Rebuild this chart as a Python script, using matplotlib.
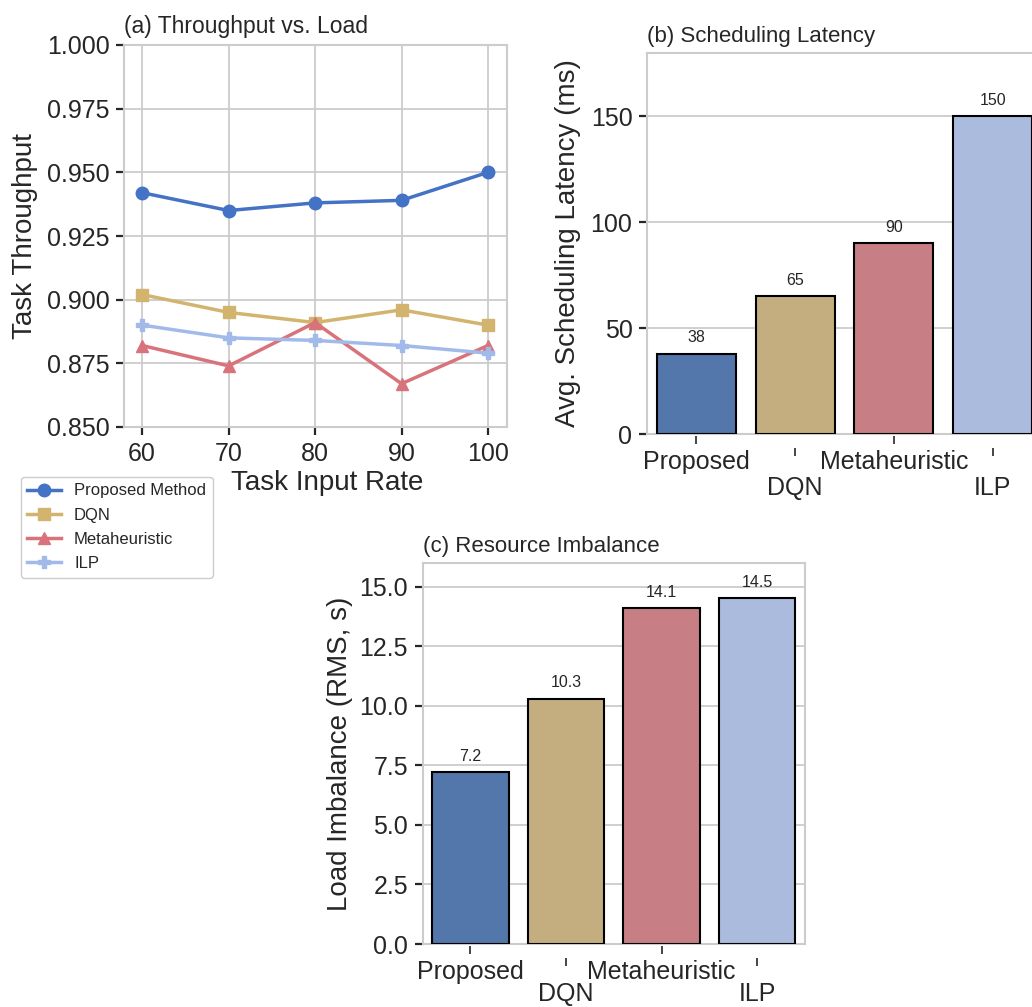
import matplotlib
matplotlib.use("Agg")
import matplotlib.pyplot as plt
from matplotlib.transforms import ScaledTranslation
import numpy as np

# ---------------- data ----------------
load_rates = [60, 70, 80, 90, 100]
thr_proposed = [0.942, 0.935, 0.938, 0.939, 0.950]
thr_dqn = [0.902, 0.895, 0.891, 0.896, 0.890]
thr_meta = [0.882, 0.874, 0.891, 0.867, 0.882]
thr_ilp = [0.890, 0.885, 0.884, 0.882, 0.879]
series_names = ["Proposed Method", "DQN", "Metaheuristic", "ILP"]

methods = ["Proposed", "DQN", "Metaheuristic", "ILP"]
latency = [38, 65, 90, 150]
imbalance = [7.2, 10.3, 14.1, 14.5]
latency_labels = ["38", "65", "90", "150"]
imbalance_labels = ["7.2", "10.3", "14.1", "14.5"]

yticks_a = [0.850, 0.875, 0.900, 0.925, 0.950, 0.975, 1.000]
yticks_b = [0, 50, 100, 150]
yticks_c = [0.0, 2.5, 5.0, 7.5, 10.0, 12.5, 15.0]

# ---------------- style ----------------
line_colors = ["#4472C4", "#D2B46E", "#D9737B", "#A2BAEA"]
bar_colors = ["#5377AA", "#C4AE80", "#C77E84", "#AABBDD"]
markers = ["o", "s", "^", "P"]
txt = "#262626"
grid_c = "#CCCCCC"

plt.rcParams.update({
    "font.family": ["Liberation Sans", "DejaVu Sans"],
    "text.color": txt,
    "axes.labelcolor": txt,
    "xtick.color": txt,
    "ytick.color": txt,
    "axes.edgecolor": grid_c,
    "axes.linewidth": 1.5,
    "grid.color": grid_c,
    "grid.linewidth": 1.3,
    "xtick.major.size": 6,
    "ytick.major.size": 6,
    "xtick.major.width": 1.6,
    "ytick.major.width": 1.6,
    "xtick.direction": "out",
    "ytick.direction": "out",
})

W, H = 1032, 1007
fig = plt.figure(figsize=(W / 100, H / 100), dpi=100)


def px_axes(l, t, r, b):
    return fig.add_axes([l / W, 1 - b / H, (r - l) / W, (b - t) / H])


# ---------------- (a) ----------------
ax1 = px_axes(124, 45, 507, 427)
all_thr = [thr_proposed, thr_dqn, thr_meta, thr_ilp]
handles = []
for vals, name, c, m in zip(all_thr, series_names, line_colors, markers):
    h, = ax1.plot(load_rates, vals, color=c, marker=m, lw=2.5, ms=9,
                  label=name)
    handles.append(h)
ax1.set_ylim(0.85, 1.0)
ax1.set_xlim(57.9, 102.2)
ax1.set_xticks(load_rates)
ax1.set_yticks(yticks_a)
ax1.set_yticklabels([f"{v:.3f}" for v in yticks_a])
ax1.grid(True)
ax1.set_axisbelow(True)
ax1.tick_params(labelsize=18, pad=4.5)
ax1.set_xlabel("Task Input Rate", fontsize=20)
ax1.set_ylabel("Task Throughput", fontsize=20)
ax1.xaxis.set_label_coords((326.7 - 124) / 383, (427 - 470) / 382)
ax1.yaxis.set_label_coords((38 - 124) / 383, 0.5)
ax1.set_title("(a) Throughput vs. Load", loc="left", fontsize=16.5, pad=8.5)

fig.legend(handles=handles, labels=series_names, loc="upper left",
           bbox_to_anchor=(20.7 / W, 1 - 476.7 / H), borderaxespad=0,
           fontsize=12, labelspacing=0.55, frameon=True, edgecolor=grid_c,
           fancybox=True, framealpha=1, borderpad=0.4, handletextpad=0.8)


# ---------------- bar helper ----------------
def bar_panel(ax, values, labels, ylim, yticks, ytlabels, ylabel, title,
              ylab_x, odd_pad):
    x = np.arange(len(methods))
    bars = ax.bar(x, values, width=0.8, color=bar_colors,
                  edgecolor="black", linewidth=1.5, zorder=3)
    ax.bar_label(bars, labels=labels, padding=6, fontsize=11.5, color=txt)
    ax.set_xlim(-0.5, len(methods) - 0.5)
    ax.set_ylim(*ylim)
    ax.set_yticks(yticks)
    ax.set_yticklabels(ytlabels)
    ax.yaxis.grid(True, zorder=0)
    ax.xaxis.grid(False)
    ax.set_axisbelow(True)
    ax.tick_params(axis="y", labelsize=18, pad=4.5)
    ax.set_xticks(x)
    ax.set_xticklabels(methods, fontsize=18)
    ax.tick_params(axis="x", width=1.2, length=6)
    for i, tk in enumerate(ax.xaxis.get_major_ticks()):
        off = 2 if i % 2 == 0 else 14
        tk.tick1line.set_transform(
            tk.tick1line.get_transform()
            + ScaledTranslation(0, -off / 100, fig.dpi_scale_trans))
        tk.set_pad(5.5 if i % 2 == 0 else odd_pad)
    ax.set_ylabel(ylabel, fontsize=20)
    ax.yaxis.set_label_coords(ylab_x, 0.5)
    ax.set_title(title, loc="left", fontsize=16, pad=8)


# ---------------- (b) ----------------
ax2 = px_axes(647, 53, 1042, 434)
bar_panel(ax2, latency, latency_labels, (0, 180), yticks_b,
          [str(v) for v in yticks_b], "Avg. Scheduling Latency (ms)",
          "(b) Scheduling Latency", (581 - 647) / 395, 24)

# ---------------- (c) ----------------
ax3 = px_axes(422.7, 562.7, 805, 944)
bar_panel(ax3, imbalance, imbalance_labels, (0, 16), yticks_c,
          [f"{v:.1f}" for v in yticks_c], "Load Imbalance (RMS, s)",
          "(c) Resource Imbalance", (353 - 422.7) / 382, 21.5)

fig.savefig("out.png", dpi=100)
